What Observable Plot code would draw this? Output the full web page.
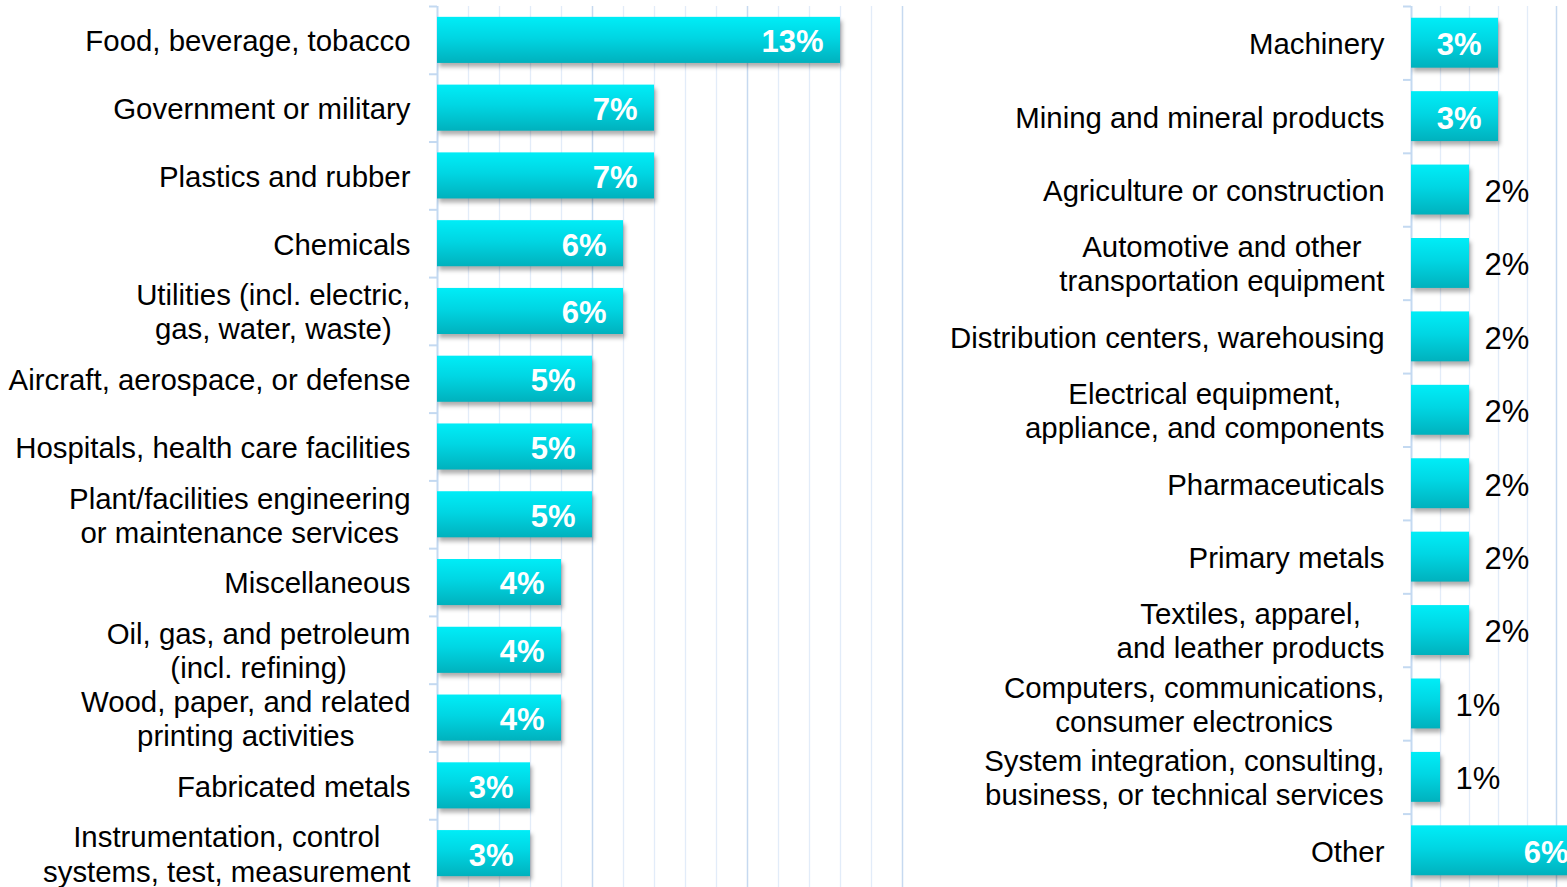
<!DOCTYPE html>
<html><head><meta charset="utf-8">
<script src="https://cdn.jsdelivr.net/npm/d3@7"></script>
<script src="https://cdn.jsdelivr.net/npm/@observablehq/plot@0.6"></script>
<style>
html,body{margin:0;padding:0;background:#fff;overflow:hidden;}
#chart{position:relative;width:1567px;height:887px;}
#left{position:absolute;left:0;top:0;}
#right{position:absolute;left:903px;top:0;}
</style></head><body>
<div id="chart"><div id="left"></div><div id="right"></div></div>
<script>
const leftCategories = [
  "Food, beverage, tobacco",
  "Government or military",
  "Plastics and rubber",
  "Chemicals",
  "Utilities (incl. electric,\ngas, water, waste)",
  "Aircraft, aerospace, or defense",
  "Hospitals, health care facilities",
  "Plant/facilities engineering\nor maintenance services",
  "Miscellaneous",
  "Oil, gas, and petroleum\n(incl. refining)",
  "Wood, paper, and related\nprinting activities",
  "Fabricated metals",
  "Instrumentation, control\nsystems, test, measurement"
];
const leftValues = [13, 7, 7, 6, 6, 5, 5, 5, 4, 4, 4, 3, 3];

const rightCategories = [
  "Machinery",
  "Mining and mineral products",
  "Agriculture or construction",
  "Automotive and other\ntransportation equipment",
  "Distribution centers, warehousing",
  "Electrical equipment,\nappliance, and components",
  "Pharmaceuticals",
  "Primary metals",
  "Textiles, apparel,\nand leather products",
  "Computers, communications,\nconsumer electronics",
  "System integration, consulting,\nbusiness, or technical services",
  "Other"
];
const rightValues = [3, 3, 2, 2, 2, 2, 2, 2, 2, 1, 1, 6];

const leftMinorTicks = [1, 2, 3, 4, 6, 7, 8, 9, 11, 12, 13, 14];
const leftMajorTicks = [5, 10, 15];
const rightMinorTicks = [1, 2, 3, 4];
const rightMajorTicks = [5];

const FONT = "'Liberation Sans', Arial, Helvetica, sans-serif";
const MINOR = "#e2ecf9";
const MAJOR = "#c6d9f0";
const AXIS = "#c3d9f1";

function gradientDefs(id) {
  return () => {
    const defs = d3.create("svg:defs");
    const g = defs.append("linearGradient").attr("id", id)
      .attr("x1", 0).attr("y1", 0).attr("x2", 0).attr("y2", 1);
    g.append("stop").attr("offset", "0%").attr("stop-color", "#00edf7");
    g.append("stop").attr("offset", "45%").attr("stop-color", "#00d6e3");
    g.append("stop").attr("offset", "100%").attr("stop-color", "#00b1bd");
    return defs.node();
  };
}

function panel(cats, vals, opts) {
  const data = cats.map((c, i) => ({cat: c, value: vals[i]}));
  const step = (opts.height - opts.marginTop) / cats.length;
  const inside = data.filter(d => d.value >= opts.insideMin);
  const outside = data.filter(d => d.value < opts.insideMin);
  return Plot.plot({
    width: opts.width,
    height: opts.height,
    marginLeft: opts.marginLeft,
    marginRight: opts.marginRight,
    marginTop: opts.marginTop,
    marginBottom: 0,
    style: {fontFamily: FONT, background: "transparent", overflow: "visible"},
    x: {domain: opts.xDomain, range: opts.xRange, axis: null},
    y: {domain: cats, paddingInner: 0.32, paddingOuter: 0.16, round: false, axis: null},
    marks: [
      gradientDefs(opts.gradId),
      Plot.ruleX(opts.minor, {stroke: MINOR, strokeWidth: 1.3}),
      Plot.ruleX(opts.major, {stroke: MAJOR, strokeWidth: 1.5}),
      Plot.ruleX([0], {stroke: AXIS, strokeWidth: 2}),
      Plot.ruleY(cats, {y: d => d, x1: 0, x2: 0, insetLeft: -8, dy: -step / 2, stroke: AXIS, strokeWidth: 2}),
      Plot.barX(data, {x: "value", y: "cat", fill: `url(#${opts.gradId})`, clip: true}),
      Plot.text(inside, {x: "value", y: "cat", text: d => d.value + "%", textAnchor: "end", dx: -17, dy: 2,
        fill: "white", fontWeight: "bold", fontSize: 31, clip: true}),
      Plot.text(outside, {x: "value", y: "cat", text: d => d.value + "%", textAnchor: "start", dx: 15, dy: 2,
        fill: "#000", fontSize: 31}),
      Plot.text(data, {x: 0, y: "cat", text: "cat", textAnchor: "end", dx: -27, fill: "#000",
        fontSize: 29.4, lineHeight: 1.16})
    ]
  });
}

const leftPlot = panel(leftCategories, leftValues, {
  width: 905, height: 887, marginLeft: 437, marginRight: 3, marginTop: 6,
  xDomain: [0, 15], xRange: [437, 902], minor: leftMinorTicks, major: leftMajorTicks,
  insideMin: 0, gradId: "barGradLeft"
});
const rightPlot = panel(rightCategories, rightValues, {
  width: 664, height: 887, marginLeft: 508, marginRight: 0, marginTop: 6,
  xDomain: [0, 6], xRange: [508, 682], minor: rightMinorTicks, major: rightMajorTicks,
  insideMin: 3, gradId: "barGradRight"
});

document.getElementById("left").appendChild(leftPlot);
document.getElementById("right").appendChild(rightPlot);

// shadows and centered multi-line labels
for (const svg of [leftPlot, rightPlot]) {
  svg.querySelectorAll("g[aria-label='bar']").forEach(g => {
    g.style.filter = "drop-shadow(2px 4px 2px rgba(0,0,0,0.32))";
  });
  svg.querySelectorAll("g[aria-label='text'] text").forEach(t => {
    const spans = t.querySelectorAll("tspan");
    if (spans.length < 2) return;
    const widths = Array.from(spans, s => s.getComputedTextLength());
    const max = Math.max(...widths);
    spans.forEach((s, i) => s.setAttribute("dx", -(max - widths[i]) / 2));
  });
}
</script>
</body></html>
